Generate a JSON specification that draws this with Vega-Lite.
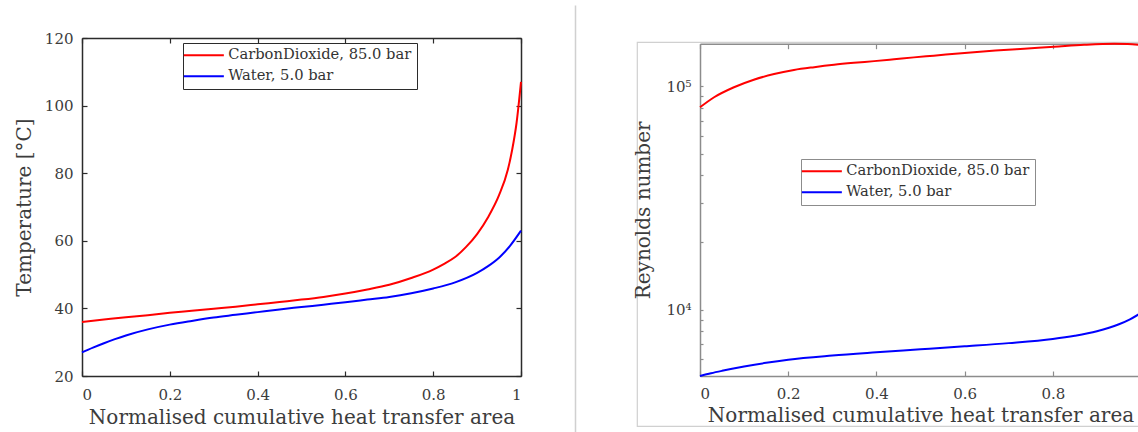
{
  "$schema": "https://vega.github.io/schema/vega-lite/v6.json",
  "padding": 0,
  "background": "white",
  "datasets": {
    "temp": [
      {"x": 0, "T": 36.0, "s": "CarbonDioxide, 85.0 bar"},
      {"x": 0.05, "T": 36.7, "s": "CarbonDioxide, 85.0 bar"},
      {"x": 0.1, "T": 37.4, "s": "CarbonDioxide, 85.0 bar"},
      {"x": 0.15, "T": 38.0, "s": "CarbonDioxide, 85.0 bar"},
      {"x": 0.2, "T": 38.7, "s": "CarbonDioxide, 85.0 bar"},
      {"x": 0.25, "T": 39.3, "s": "CarbonDioxide, 85.0 bar"},
      {"x": 0.3, "T": 39.9, "s": "CarbonDioxide, 85.0 bar"},
      {"x": 0.35, "T": 40.5, "s": "CarbonDioxide, 85.0 bar"},
      {"x": 0.4, "T": 41.2, "s": "CarbonDioxide, 85.0 bar"},
      {"x": 0.45, "T": 41.9, "s": "CarbonDioxide, 85.0 bar"},
      {"x": 0.5, "T": 42.6, "s": "CarbonDioxide, 85.0 bar"},
      {"x": 0.55, "T": 43.4, "s": "CarbonDioxide, 85.0 bar"},
      {"x": 0.6, "T": 44.4, "s": "CarbonDioxide, 85.0 bar"},
      {"x": 0.65, "T": 45.6, "s": "CarbonDioxide, 85.0 bar"},
      {"x": 0.7, "T": 47.0, "s": "CarbonDioxide, 85.0 bar"},
      {"x": 0.75, "T": 49.0, "s": "CarbonDioxide, 85.0 bar"},
      {"x": 0.8, "T": 51.5, "s": "CarbonDioxide, 85.0 bar"},
      {"x": 0.825, "T": 53.2, "s": "CarbonDioxide, 85.0 bar"},
      {"x": 0.85, "T": 55.2, "s": "CarbonDioxide, 85.0 bar"},
      {"x": 0.875, "T": 58.2, "s": "CarbonDioxide, 85.0 bar"},
      {"x": 0.9, "T": 62.0, "s": "CarbonDioxide, 85.0 bar"},
      {"x": 0.925, "T": 67.0, "s": "CarbonDioxide, 85.0 bar"},
      {"x": 0.95, "T": 73.5, "s": "CarbonDioxide, 85.0 bar"},
      {"x": 0.97, "T": 81.0, "s": "CarbonDioxide, 85.0 bar"},
      {"x": 0.98, "T": 87.0, "s": "CarbonDioxide, 85.0 bar"},
      {"x": 0.99, "T": 95.0, "s": "CarbonDioxide, 85.0 bar"},
      {"x": 1.0, "T": 107.0, "s": "CarbonDioxide, 85.0 bar"},
      {"x": 0, "T": 27.0, "s": "Water, 5.0 bar"},
      {"x": 0.025, "T": 28.4, "s": "Water, 5.0 bar"},
      {"x": 0.05, "T": 29.7, "s": "Water, 5.0 bar"},
      {"x": 0.075, "T": 30.9, "s": "Water, 5.0 bar"},
      {"x": 0.1, "T": 32.0, "s": "Water, 5.0 bar"},
      {"x": 0.15, "T": 33.8, "s": "Water, 5.0 bar"},
      {"x": 0.2, "T": 35.2, "s": "Water, 5.0 bar"},
      {"x": 0.25, "T": 36.3, "s": "Water, 5.0 bar"},
      {"x": 0.3, "T": 37.3, "s": "Water, 5.0 bar"},
      {"x": 0.35, "T": 38.1, "s": "Water, 5.0 bar"},
      {"x": 0.4, "T": 38.9, "s": "Water, 5.0 bar"},
      {"x": 0.45, "T": 39.7, "s": "Water, 5.0 bar"},
      {"x": 0.5, "T": 40.4, "s": "Water, 5.0 bar"},
      {"x": 0.55, "T": 41.1, "s": "Water, 5.0 bar"},
      {"x": 0.6, "T": 41.8, "s": "Water, 5.0 bar"},
      {"x": 0.65, "T": 42.6, "s": "Water, 5.0 bar"},
      {"x": 0.7, "T": 43.4, "s": "Water, 5.0 bar"},
      {"x": 0.75, "T": 44.5, "s": "Water, 5.0 bar"},
      {"x": 0.8, "T": 45.9, "s": "Water, 5.0 bar"},
      {"x": 0.85, "T": 47.7, "s": "Water, 5.0 bar"},
      {"x": 0.9, "T": 50.5, "s": "Water, 5.0 bar"},
      {"x": 0.925, "T": 52.5, "s": "Water, 5.0 bar"},
      {"x": 0.95, "T": 55.0, "s": "Water, 5.0 bar"},
      {"x": 0.975, "T": 58.5, "s": "Water, 5.0 bar"},
      {"x": 1.0, "T": 63.0, "s": "Water, 5.0 bar"}
    ],
    "re": [
      {"x": 0, "Re": 80500, "s": "CarbonDioxide, 85.0 bar"},
      {"x": 0.032, "Re": 89300, "s": "CarbonDioxide, 85.0 bar"},
      {"x": 0.077, "Re": 99000, "s": "CarbonDioxide, 85.0 bar"},
      {"x": 0.122, "Re": 107000, "s": "CarbonDioxide, 85.0 bar"},
      {"x": 0.168, "Re": 113500, "s": "CarbonDioxide, 85.0 bar"},
      {"x": 0.213, "Re": 118300, "s": "CarbonDioxide, 85.0 bar"},
      {"x": 0.259, "Re": 121800, "s": "CarbonDioxide, 85.0 bar"},
      {"x": 0.304, "Re": 124800, "s": "CarbonDioxide, 85.0 bar"},
      {"x": 0.349, "Re": 127300, "s": "CarbonDioxide, 85.0 bar"},
      {"x": 0.395, "Re": 129600, "s": "CarbonDioxide, 85.0 bar"},
      {"x": 0.44, "Re": 132100, "s": "CarbonDioxide, 85.0 bar"},
      {"x": 0.485, "Re": 134700, "s": "CarbonDioxide, 85.0 bar"},
      {"x": 0.53, "Re": 137100, "s": "CarbonDioxide, 85.0 bar"},
      {"x": 0.6, "Re": 141000, "s": "CarbonDioxide, 85.0 bar"},
      {"x": 0.67, "Re": 144500, "s": "CarbonDioxide, 85.0 bar"},
      {"x": 0.735, "Re": 147300, "s": "CarbonDioxide, 85.0 bar"},
      {"x": 0.803, "Re": 150200, "s": "CarbonDioxide, 85.0 bar"},
      {"x": 0.871, "Re": 153300, "s": "CarbonDioxide, 85.0 bar"},
      {"x": 0.939, "Re": 155000, "s": "CarbonDioxide, 85.0 bar"},
      {"x": 0.97, "Re": 154700, "s": "CarbonDioxide, 85.0 bar"},
      {"x": 1.0, "Re": 153000, "s": "CarbonDioxide, 85.0 bar"},
      {"x": 0, "Re": 5045, "s": "Water, 5.0 bar"},
      {"x": 0.025, "Re": 5190, "s": "Water, 5.0 bar"},
      {"x": 0.05, "Re": 5320, "s": "Water, 5.0 bar"},
      {"x": 0.1, "Re": 5560, "s": "Water, 5.0 bar"},
      {"x": 0.15, "Re": 5780, "s": "Water, 5.0 bar"},
      {"x": 0.2, "Re": 5970, "s": "Water, 5.0 bar"},
      {"x": 0.3, "Re": 6230, "s": "Water, 5.0 bar"},
      {"x": 0.4, "Re": 6440, "s": "Water, 5.0 bar"},
      {"x": 0.5, "Re": 6640, "s": "Water, 5.0 bar"},
      {"x": 0.6, "Re": 6850, "s": "Water, 5.0 bar"},
      {"x": 0.7, "Re": 7080, "s": "Water, 5.0 bar"},
      {"x": 0.8, "Re": 7390, "s": "Water, 5.0 bar"},
      {"x": 0.85, "Re": 7640, "s": "Water, 5.0 bar"},
      {"x": 0.9, "Re": 8000, "s": "Water, 5.0 bar"},
      {"x": 0.95, "Re": 8600, "s": "Water, 5.0 bar"},
      {"x": 0.975, "Re": 9050, "s": "Water, 5.0 bar"},
      {"x": 1.0, "Re": 9670, "s": "Water, 5.0 bar"}
    ]
  },
  "spacing": 58,
  "resolve": {"scale": {"color": "independent"}, "legend": {"color": "independent"}},
  "hconcat": [
    {
      "width": 575,
      "height": 432,
      "view": {"stroke": null},
      "data": {"name": "temp"},
      "resolve": {"scale": {"y": "independent"}, "axis": {"x": "independent", "y": "independent"}},
      "layer": [
        {
          "mark": {"type": "line", "strokeWidth": 2, "interpolate": "monotone"},
          "encoding": {
            "x": {"field": "x", "type": "quantitative",
              "scale": {"domain": [0, 1], "range": [82, 521], "nice": false, "zero": false},
              "axis": {"orient": "bottom", "offset": -56, "values": [0, 0.2, 0.4, 0.6, 0.8, 1], "format": "~g",
                "title": "Normalised cumulative heat transfer area", "tickSize": -5, "labelPadding": 16, "titlePadding": 5,
                "labelFont": "DejaVu Serif", "titleFont": "DejaVu Serif",
                "domainColor": "#2b2b2b", "tickColor": "#2b2b2b"}},
            "y": {"field": "T", "type": "quantitative",
              "scale": {"domain": [20, 120], "range": [376, 38], "nice": false, "zero": false},
              "axis": {"orient": "left", "offset": -82, "values": [20, 40, 60, 80, 100, 120], "format": "d",
                "title": "Temperature [°C]", "tickSize": -5, "labelPadding": 14, "titlePadding": 10,
                "labelFont": "DejaVu Serif", "titleFont": "DejaVu Serif",
                "domainColor": "#2b2b2b", "tickColor": "#2b2b2b"}},
            "color": {"field": "s", "type": "nominal",
              "scale": {"domain": ["CarbonDioxide, 85.0 bar", "Water, 5.0 bar"], "range": ["#ff0000", "#0000ff"]},
              "legend": {"orient": "none", "legendX": 183, "legendY": 43, "title": null, "strokeColor": "#2b2b2b",
                "fillColor": "white", "padding": 5, "rowPadding": 5, "symbolType": "M-4,0H4", "symbolSize": 100,
                "symbolOffset": 8.5, "symbolStrokeWidth": 2, "labelOffset": 17, "labelFontSize": 14.7, "labelLimit": 400}}
          }
        },
        {
          "mark": {"type": "line", "opacity": 0},
          "encoding": {
            "x": {"field": "x", "type": "quantitative",
              "scale": {"domain": [0, 1], "range": [82, 521], "nice": false, "zero": false},
              "axis": {"orient": "top", "offset": -38, "values": [0, 0.2, 0.4, 0.6, 0.8, 1], "labels": false, "title": null,
                "tickSize": -5, "domainColor": "#2b2b2b", "tickColor": "#2b2b2b"}},
            "y": {"field": "T", "type": "quantitative",
              "scale": {"domain": [20, 120], "range": [376, 38], "nice": false, "zero": false},
              "axis": {"orient": "right", "offset": -54, "values": [20, 40, 60, 80, 100, 120], "labels": false, "title": null,
                "tickSize": -5, "domainColor": "#2b2b2b", "tickColor": "#2b2b2b"}}
          }
        },
        {
          "mark": {"type": "point", "opacity": 0},
          "encoding": {
            "y": {"field": "T", "type": "quantitative",
              "scale": {"domain": [20, 120], "range": [432, 5], "nice": false, "zero": false},
              "axis": {"orient": "right", "offset": 0, "ticks": false, "labels": false, "title": null,
                "domainColor": "#d0d0d0", "domainWidth": 1.5}}
          }
        }
      ]
    },
    {
      "spacing": 20,
      "resolve": {"scale": {"color": "independent"}, "legend": {"color": "independent"}},
      "vconcat": [
        {
          "width": 504,
          "height": 19,
          "view": {"stroke": null},
          "data": {"values": []},
          "mark": {"type": "point", "opacity": 0}
        },
        {
          "width": 504,
          "height": 384,
          "view": {"stroke": "#d0d0d0", "strokeWidth": 1.2},
          "data": {"name": "re"},
          "resolve": {"axis": {"x": "independent", "y": "independent"}},
          "layer": [
            {
              "mark": {"type": "line", "strokeWidth": 2, "interpolate": "monotone"},
              "encoding": {
                "x": {"field": "x", "type": "quantitative",
                  "scale": {"domain": [0, 1], "range": [63, 504], "nice": false, "zero": false},
                  "axis": {"orient": "bottom", "offset": -50, "values": [0, 0.2, 0.4, 0.6, 0.8, 1], "format": "~g",
                    "labelExpr": "datum.value == 1 ? '' : datum.label",
                    "labelFont": "DejaVu Serif", "titleFont": "DejaVu Serif",
                    "title": "Normalised cumulative heat transfer area", "tickSize": -5, "labelPadding": 15, "titlePadding": 4,
                    "domainColor": "#8c8c8c", "tickColor": "#8c8c8c"}},
                "y": {"field": "Re", "type": "quantitative",
                  "scale": {"type": "log", "domain": [5045, 155100], "range": [334, 1.7], "nice": false},
                  "axis": {"orient": "left", "offset": -63,
                    "values": [6000, 7000, 8000, 9000, 10000, 20000, 30000, 40000, 50000, 60000, 70000, 80000, 90000, 100000],
                    "labelExpr": "datum.value == 10000 ? '10⁴' : (datum.value == 100000 ? '10⁵' : '')",
                    "labelFont": "DejaVu Serif", "titleFont": "DejaVu Serif",
                    "title": "Reynolds number", "tickSize": -3, "labelPadding": 12, "titlePadding": 12,
                    "domainColor": "#8c8c8c", "tickColor": "#8c8c8c"}},
                "color": {"field": "s", "type": "nominal",
                  "scale": {"domain": ["CarbonDioxide, 85.0 bar", "Water, 5.0 bar"], "range": ["#ff0000", "#0000ff"]},
                  "legend": {"orient": "none", "legendX": 164, "legendY": 117, "title": null, "strokeColor": "#8c8c8c",
                    "fillColor": "white", "padding": 5, "rowPadding": 5, "symbolType": "M-4,0H4", "symbolSize": 100,
                    "symbolOffset": 8.5, "symbolStrokeWidth": 2, "labelOffset": 17, "labelFontSize": 14.7, "labelLimit": 400}}
              }
            },
            {
              "mark": {"type": "line", "opacity": 0},
              "encoding": {
                "x": {"field": "x", "type": "quantitative",
                  "scale": {"domain": [0, 1], "range": [63, 504], "nice": false, "zero": false},
                  "axis": {"orient": "top", "offset": -1.7, "values": [0, 0.2, 0.4, 0.6, 0.8, 1], "labels": false, "title": null,
                    "tickSize": -5, "domainColor": "#8c8c8c", "tickColor": "#8c8c8c"}},
                "y": {"field": "Re", "type": "quantitative",
                  "scale": {"type": "log", "domain": [5045, 155100], "range": [334, 1.7], "nice": false},
                  "axis": {"orient": "right", "offset": 0,
                    "values": [6000, 7000, 8000, 9000, 10000, 20000, 30000, 40000, 50000, 60000, 70000, 80000, 90000, 100000],
                    "labels": false, "title": null, "tickSize": -3, "domainColor": "#8c8c8c", "tickColor": "#8c8c8c"}}
              }
            }
          ]
        }
      ]
    }
  ],
  "config": {
    "font": "DejaVu Serif",
    "view": {"stroke": null},
    "axis": {
      "grid": false,
      "labelFont": "DejaVu Serif",
      "labelFontSize": 15,
      "labelColor": "#3c3c3c",
      "titleFont": "DejaVu Serif",
      "titleFontSize": 20,
      "titleFontWeight": "normal",
      "titleColor": "#3c3c3c",
      "domainWidth": 1.5,
      "tickWidth": 1.2
    },
    "legend": {
      "labelFont": "DejaVu Serif",
      "labelColor": "#333333"
    }
  }
}
